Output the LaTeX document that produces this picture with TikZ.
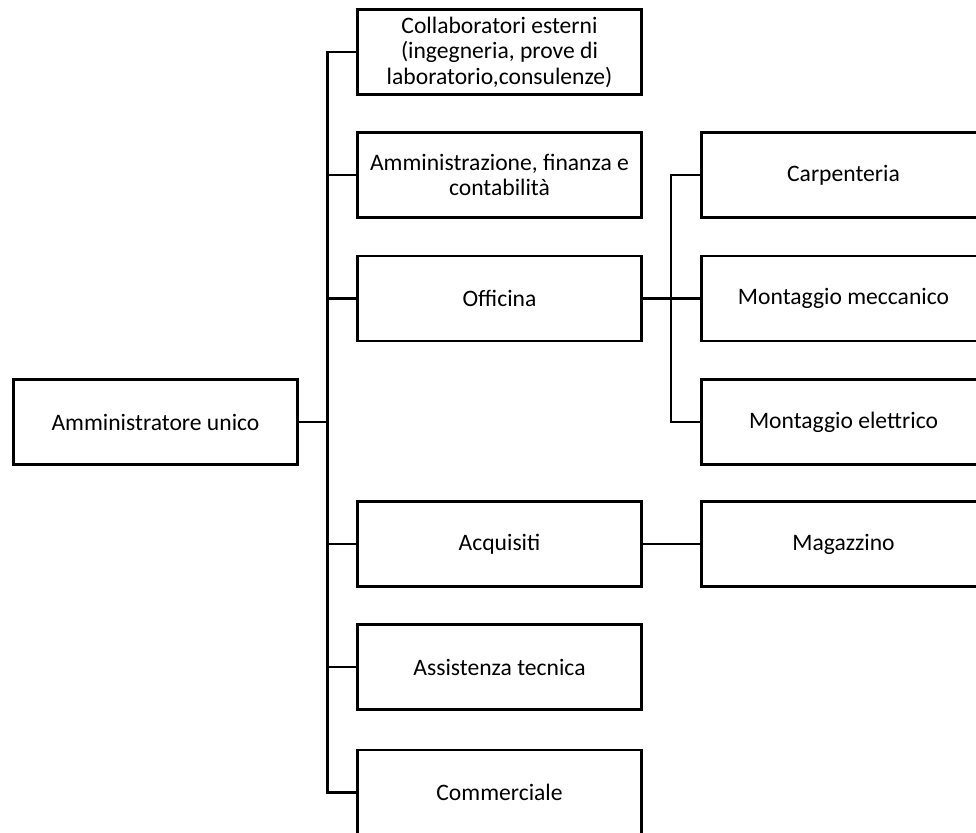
\documentclass[tikz,border=0pt]{standalone}
\usepackage{fontspec}
\setmainfont{Carlito}
\usetikzlibrary{positioning}
\tikzset{
  unit/.style={draw, line width=2.5pt, minimum width=284pt, minimum height=85pt,
    inner sep=0pt, align=center, font=\fontsize{23.6}{25.5}\selectfont},
  link/.style={line width=2.5pt}
}
\begin{document}
\begin{tikzpicture}[x=1pt, y=-1pt]
          	 \clip (0,0) rectangle (976,832);

          	 \node[unit] (boss) at (155.5,422) {Amministratore unico};

          	 \node[unit] (collab) at (499.5,52) {Collaboratori esterni\\(ingegneria, prove di\\laboratorio,consulenze)};
          	 \node[unit] (amm) at (499.5,175) {Amministrazione, finanza e\\contabilità};
          	 \node[unit] (offic) at (499.5,298.5) {Officina};
          	 \node[unit] (acq) at (499.5,544) {Acquisiti};
          	 \node[unit] (assist) at (499.5,667) {Assistenza tecnica};
          	 \node[unit] (commerc) at (499.5,792.5) {Commerciale};

          	 \node[unit] (carp) at (843.5,175) {Carpenteria};
          	 \node[unit] (mecc) at (843.5,298.5) {Montaggio meccanico};
          	 \node[unit] (elet) at (843.5,422) {Montaggio elettrico};
          	 \node[unit] (magaz) at (843.5,544) {Magazzino};

          	 \coordinate (trunk) at (327.5,0);
          	 \coordinate (fork) at (671,0);

             \draw[link] (collab.west) -- (collab.west -| trunk) -- (commerc.west -| trunk) -- (commerc.west);
             \draw[link] (boss.east) -- (boss.east -| trunk);
             \foreach \n in {amm,offic,acq,assist}
               \draw[link] (\n.west) -- (\n.west -| trunk);

             \draw[link] (carp.west) -- (carp.west -| fork) -- (elet.west -| fork) -- (elet.west);
             \draw[link] (offic.east) -- (mecc.west);
             \draw[link] (acq.east) -- (magaz.west);
        \end{tikzpicture}
\end{document}
